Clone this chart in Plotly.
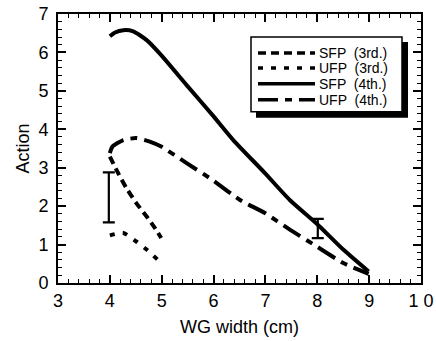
import plotly.graph_objects as go

# Data
sfp4_x = [4.0, 4.1, 4.26, 4.45, 4.71, 4.99, 5.48, 5.98, 6.38, 6.99, 7.47, 7.99, 8.5, 8.99]
sfp4_y = [6.42, 6.52, 6.58, 6.55, 6.32, 5.93, 5.15, 4.37, 3.72, 2.86, 2.16, 1.54, 0.87, 0.30]

ufp4_x = [4.0, 4.05, 4.26, 4.51, 4.77, 4.99, 5.48, 5.98, 6.51, 6.99, 7.47, 7.99, 8.5, 8.99]
ufp4_y = [3.38, 3.55, 3.72, 3.77, 3.68, 3.55, 3.12, 2.68, 2.16, 1.82, 1.39, 0.95, 0.52, 0.24]

sfp3_x = [4.0, 4.16, 4.32, 4.51, 4.71, 4.87, 4.99]
sfp3_y = [3.29, 2.86, 2.47, 2.08, 1.73, 1.43, 1.17]

ufp3_x = [4.0, 4.26, 4.51, 4.71, 4.99]
ufp3_y = [1.24, 1.30, 1.08, 0.87, 0.52]

err_x = [3.98, 8.01]
err_y = [2.23, 1.42]
err_half = [0.65, 0.25]

legend_labels = ["SFP  (3rd.)", "UFP  (3rd.)", "SFP  (4th.)", "UFP  (4th.)"]
x_tickvals = [3, 4, 5, 6, 7, 8, 9, 10]
x_ticktext = ["3", "4", "5", "6", "7", "8", "9", "1 0"]

FONT = "Liberation Sans, Arial, Helvetica, sans-serif"
dashes = ["8px,5px", "5px,8px", "solid", "20px,7px,7px,7px"]
widths = [4, 4, 4, 4]

fig = go.Figure()
series = [(sfp3_x, sfp3_y), (ufp3_x, ufp3_y), (sfp4_x, sfp4_y), (ufp4_x, ufp4_y)]
for (xs, ys), d, w, name in zip(series, dashes, widths, legend_labels):
    fig.add_trace(go.Scatter(x=xs, y=ys, mode="lines", name=name, showlegend=False,
                             line=dict(color="black", width=w, dash=d, shape="spline", smoothing=0.6)))

fig.add_trace(go.Scatter(x=err_x, y=err_y, mode="markers", showlegend=False,
                         marker=dict(size=0.1, color="black"),
                         error_y=dict(type="data", array=err_half, visible=True,
                                      color="black", thickness=2.2, width=6)))

# plot area in page pixels: x 58..421, y 14..283.5
def px2x(p):
    return (p - 58) / 363.0

def px2y(p):
    return (283.5 - p) / 269.5

shapes = [
    dict(type="rect", xref="paper", yref="paper", x0=px2x(256), x1=px2x(408), y0=px2y(118), y1=px2y(42),
         fillcolor="black", line=dict(color="black", width=0), layer="above"),
    dict(type="rect", xref="paper", yref="paper", x0=px2x(251), x1=px2x(402), y0=px2y(112), y1=px2y(37),
         fillcolor="white", line=dict(color="black", width=1.5), layer="above"),
]
ann = []
rows = [53, 68, 84, 100]
for r, d, lab in zip(rows, dashes, legend_labels):
    shapes.append(dict(type="line", xref="paper", yref="paper", x0=px2x(258), x1=px2x(315),
                       y0=px2y(r), y1=px2y(r), line=dict(color="black", width=3.5, dash=d), layer="above"))
    ann.append(dict(xref="paper", yref="paper", x=px2x(317), y=px2y(r), text=lab, showarrow=False,
                    xanchor="left", yanchor="middle", font=dict(family=FONT, size=14, color="black")))

axis_common = dict(showline=True, linecolor="black", linewidth=1.8, mirror="allticks",
                   ticks="inside", ticklen=8, tickwidth=1.5, tickcolor="black",
                   showgrid=False, zeroline=False, automargin=False,
                   tickfont=dict(family=FONT, size=18, color="black"))

fig.update_layout(
    width=436, height=341,
    margin=dict(l=58, r=15, t=14, b=57.5),
    paper_bgcolor="white", plot_bgcolor="white",
    shapes=shapes, annotations=ann,
    xaxis=dict(range=[3, 10], tickvals=x_tickvals, ticktext=x_ticktext,
               minor=dict(dtick=0.2, ticks="inside", ticklen=4, tickwidth=1.2, tickcolor="black"),
               title=dict(text="WG width (cm)", font=dict(family=FONT, size=18, color="black"), standoff=11),
               **axis_common),
    yaxis=dict(range=[0, 7], dtick=1, ticklabelstandoff=4,
               minor=dict(dtick=0.2, ticks="inside", ticklen=4, tickwidth=1.2, tickcolor="black"),
               title=dict(text="Action", font=dict(family=FONT, size=18, color="black"), standoff=4),
               **axis_common),
)

fig.write_html("out.html", config={"displayModeBar": False},
               post_script="document.body.style.margin='0px';document.body.style.overflow='hidden';")
